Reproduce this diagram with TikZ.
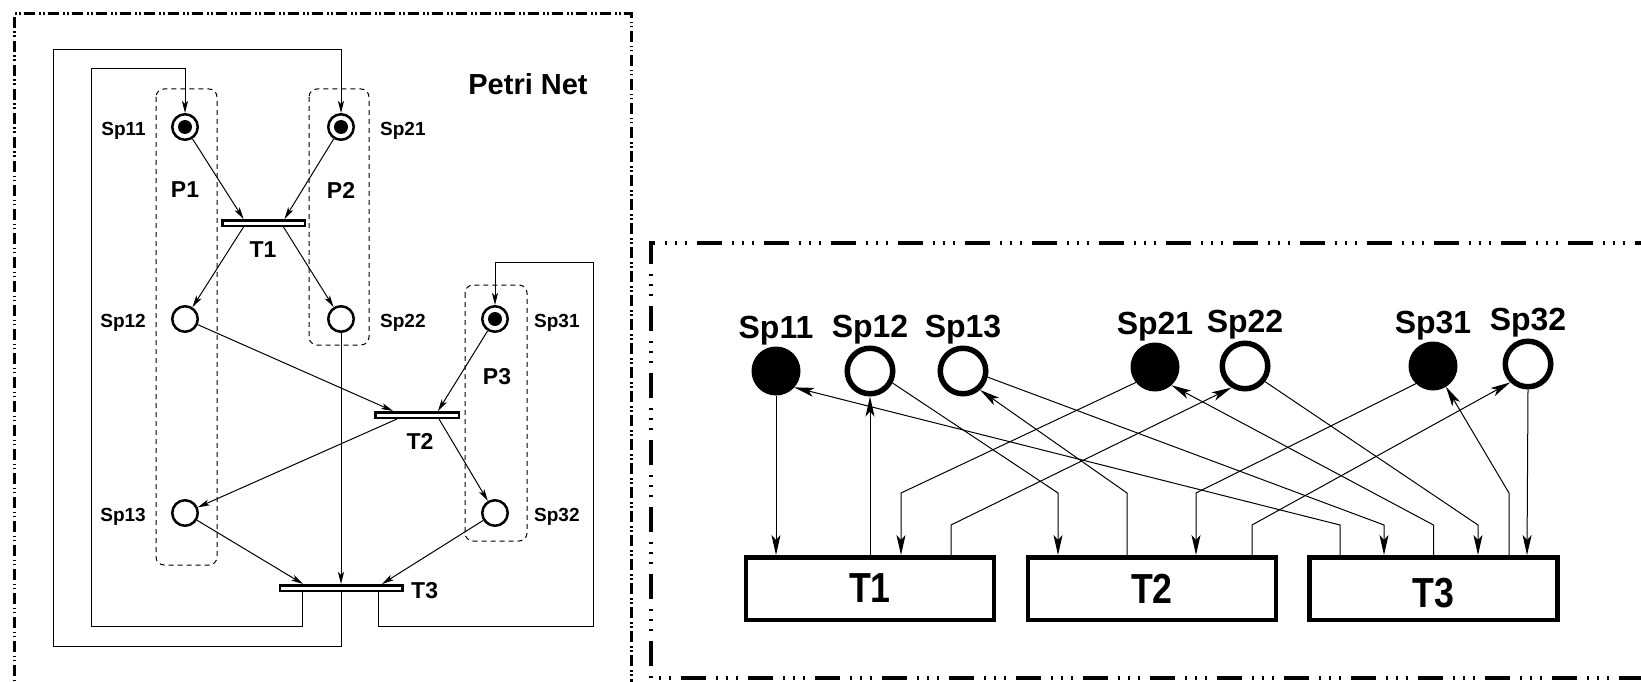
\documentclass[tikz,border=0pt]{standalone}
\usepackage{fontspec}
\setmainfont{Liberation Sans}
\usepackage{graphicx}
\usepackage{tikz}
\usetikzlibrary{arrows.meta,positioning,calc}

\tikzset{
  place/.style={circle,draw,line width=2.5pt,minimum size=25.5pt,inner sep=0pt},
  bar/.style={rectangle,draw,line width=2.5pt,minimum height=5.5pt,inner sep=0pt},
  arc/.style={line width=1pt,-{Stealth[length=12pt,width=6pt,inset=3pt]}},
  group/.style={line width=1pt,dash pattern=on 5pt off 4pt,rounded corners=8pt},
  llbl/.style={inner sep=0pt,font=\fontsize{19pt}{22pt}\selectfont\bfseries},
  plbl/.style={inner sep=0pt,font=\fontsize{23pt}{27pt}\selectfont\bfseries},
  rplace/.style={circle,draw,line width=5.5pt,minimum size=45.5pt,inner sep=0pt},
  rtok/.style={circle,fill=black,minimum size=49pt,inner sep=0pt,outer sep=0pt},
  rbox/.style={rectangle,draw,line width=4.5pt,minimum width=248pt,minimum height=62.5pt,
    inner sep=0pt,font=\fontsize{42pt}{46pt}\selectfont\bfseries},
  rlbl/.style={inner sep=0pt,font=\fontsize{32pt}{36pt}\selectfont\bfseries},
  rarc/.style={line width=1pt,-{Stealth[length=20pt,width=9pt,inset=5pt]}},
  lframe/.style={line width=3pt,dash pattern=on 11pt off 4pt on 1.5pt off 2.5pt on 1.5pt off 3.5pt},
  rframe/.style={line width=4.5pt,dash pattern=on 25pt off 10pt on 2pt off 8pt on 2pt off 8pt on 2pt off 10pt}
}
\newcommand{\narrow}[1]{\scalebox{0.85}[1]{#1}}

\begin{document}
\begin{tikzpicture}[x=1pt,y=-1pt]
  \useasboundingbox (0,0) rectangle (1641,682);
  \clip (0,0) rectangle (1641,682);

  % frames
  \draw[lframe] (14,700) -- (14,14) -- (631,14) -- (631,700);
  \draw[rframe] (1660,243) -- (651,243) -- (651,678) -- (1660,678);

  % ---- Petri net (left) ----
  \node[plbl,font=\fontsize{29pt}{33pt}\selectfont\bfseries] (title) at (528,84) {Petri Net};

  \draw[group] (156,89) rectangle (217,565);
  \draw[group] (309,89) rectangle (369,345);
  \draw[group] (465,285) rectangle (527,541);
  \node[plbl] (p1) at (185,190) {P1};
  \node[plbl] (p2) at (341,190) {P2};
  \node[plbl] (p3) at (497,377) {P3};

  \node[place] (sp11) at (185,127) {};
  \node[place] (sp21) at (341,127) {};
  \node[place] (sp12) at (185,319) {};
  \node[place] (sp22) at (341,319) {};
  \node[place] (sp31) at (495,319) {};
  \node[place] (sp13) at (185,513) {};
  \node[place] (sp32) at (495,513) {};
  \fill (sp11) circle (7pt);
  \fill (sp21) circle (7pt);
  \fill (sp31) circle (7pt);

  \node[llbl,left=25pt of sp11,yshift=-4pt] (sp11l) {Sp11};
  \node[llbl,left=25pt of sp12,yshift=-4pt] (sp12l) {Sp12};
  \node[llbl,left=25pt of sp13,yshift=-4pt] (sp13l) {Sp13};
  \node[llbl,right=25pt of sp21,yshift=-4pt] (sp21l) {Sp21};
  \node[llbl,right=25pt of sp22,yshift=-4pt] (sp22l) {Sp22};
  \node[llbl,right=25pt of sp31,yshift=-4pt] (sp31l) {Sp31};
  \node[llbl,right=25pt of sp32,yshift=-4pt] (sp32l) {Sp32};

  \node[bar,minimum width=82.5pt] (t1) at (263.5,223) {};
  \node[bar,minimum width=83.5pt] (t2) at (417,415) {};
  \node[bar,minimum width=122.5pt] (t3) at (341,588) {};
  \node[plbl] (t1l) at (263,250) {T1};
  \node[plbl] (t2l) at (420,441) {T2};
  \node[plbl,anchor=west] (t3l) at (411,591) {T3};

  \draw[arc] (sp11) -- ($(t1.north)+(-20,0)$);
  \draw[arc] (sp21) -- ($(t1.north)+(21,0)$);
  \draw[arc] ($(t1.south)+(-20,0)$) -- (sp12);
  \draw[arc] ($(t1.south)+(20,0)$) -- (sp22);
  \draw[arc] (sp12) -- ($(t2.north)+(-24,0)$);
  \draw[arc] (sp31) -- ($(t2.north)+(21,0)$);
  \draw[arc] ($(t2.south)+(-20,0)$) -- (sp13);
  \draw[arc] ($(t2.south)+(22,0)$) -- (sp32);
  \draw[arc] (sp13) -- ($(t3.north)+(-38,0)$);
  \draw[arc] (sp22) -- (t3.north);
  \draw[arc] (sp32) -- ($(t3.north)+(41,0)$);
  % feedback loops from T3
  \draw[arc] ($(t3.south)+(-39,0)$) |- (91,626) -- (91,69) -| (sp11.north);
  \draw[arc] (t3.south) |- (53,646) -- (53,50) -| (sp21.north);
  \draw[arc] ($(t3.south)+(37,0)$) |- (593,626) -- (593,262) -| (sp31.north);

  % ---- incidence view (right) ----
  \node[rtok] (rsp11) at (776,371) {};
  \node[rplace] (rsp12) at (870,371) {};
  \node[rplace] (rsp13) at (963,371) {};
  \node[rtok] (rsp21) at (1155,367) {};
  \node[rplace] (rsp22) at (1245,366) {};
  \node[rtok] (rsp31) at (1433,366) {};
  \node[rplace] (rsp32) at (1528,364) {};
  \foreach \p/\t in {rsp11/Sp11,rsp12/Sp12,rsp13/Sp13,rsp21/Sp21,rsp22/Sp22,rsp31/Sp31,rsp32/Sp32}
    \node[rlbl,above=1.5pt of \p] (\p l) {\t};

  \node[rbox] (rt1) at (870,588.5) {\narrow{T1}};
  \node[rbox] (rt2) at (1152,588.5) {\narrow{T2}};
  \node[rbox,text height=38pt] (rt3) at (1433.5,588.5) {\narrow{T3}};

  \draw[rarc] (rsp11.south) -- ($(rt1.north)+(-94,0)$);
  \draw[rarc] (rt1.north) -- (rsp12.south);
  \draw[rarc] (rsp21.-141) -- ($(rt1.north)+(31,-62)$) -- ++(0,62);
  \draw[rarc] ($(rt1.north)+(81,0)$) -- ++(0,-30) -- (rsp22.-122);
  \draw[rarc] (rsp12.-28) -- ($(rt2.north)+(-94,-62)$) -- ++(0,62);
  \draw[rarc] ($(rt2.north)+(-25,0)$) -- ++(0,-62) -- (rsp13.-48);
  \draw[rarc] (rsp31.-134) -- ($(rt2.north)+(44,-62)$) -- ++(0,62);
  \draw[rarc] ($(rt2.north)+(100,0)$) -- ++(0,-30) -- (rsp32.-134);
  \draw[rarc] ($(rt3.north)+(-93.5,0)$) -- ++(0,-30) -- (rsp11.-42);
  \draw[rarc] (rsp13.-14) -- ($(rt3.north)+(-49.5,-30)$) -- ++(0,30);
  \draw[rarc] (rt3.north) -- ++(0,-30) -- (rsp21.-48);
  \draw[rarc] (rsp22.-38) -- ($(rt3.north)+(44.5,-30)$) -- ++(0,30);
  \draw[rarc] ($(rt3.north)+(75.5,0)$) -- ++(0,-62) -- (rsp31.-58);
  \draw[rarc] (rsp32.south) -- ($(rt3.north)+(93.5,0)$);
\end{tikzpicture}
\end{document}
